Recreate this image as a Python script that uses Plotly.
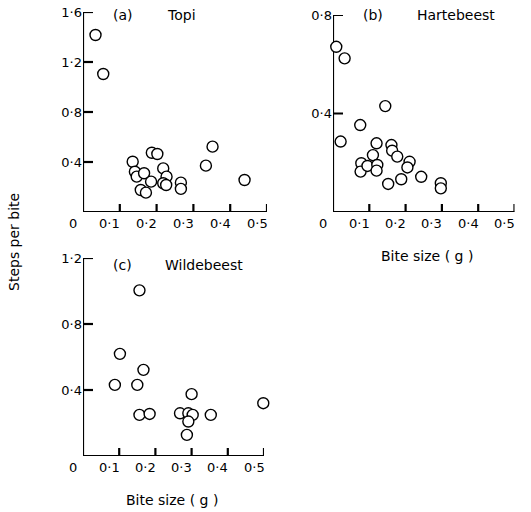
import plotly.graph_objects as go

W, H = 531, 512

# Panel (a) Topi
topi_x = [0.034, 0.055, 0.135, 0.141, 0.146, 0.166, 0.157, 0.171, 0.185, 0.187, 0.202,
          0.218, 0.227, 0.218, 0.226, 0.266, 0.266, 0.334, 0.352, 0.439]
topi_y = [1.416, 1.104, 0.402, 0.322, 0.283, 0.310, 0.176, 0.155, 0.243, 0.474, 0.464,
          0.349, 0.283, 0.230, 0.216, 0.235, 0.185, 0.371, 0.523, 0.256]

# Panel (b) Hartebeest
hart_x = [0.009, 0.032, 0.021, 0.144, 0.075, 0.120, 0.161, 0.163, 0.177, 0.110, 0.078,
          0.076, 0.095, 0.122, 0.120, 0.211, 0.205, 0.152, 0.188, 0.243, 0.297, 0.297]
hart_y = [0.671, 0.624, 0.286, 0.430, 0.353, 0.279, 0.272, 0.249, 0.225, 0.231, 0.198,
          0.164, 0.187, 0.191, 0.168, 0.204, 0.181, 0.114, 0.133, 0.143, 0.117, 0.096]

# Panel (c) Wildebeest
wild_x = [0.156, 0.102, 0.088, 0.167, 0.150, 0.156, 0.184, 0.268, 0.291, 0.300, 0.303,
          0.291, 0.287, 0.353, 0.498]
wild_y = [1.004, 0.619, 0.431, 0.522, 0.431, 0.249, 0.255, 0.259, 0.259, 0.375, 0.249,
          0.209, 0.128, 0.249, 0.320]

x_ticks = [0, 0.1, 0.2, 0.3, 0.4, 0.5]
x_labels = ["0", "0·1", "0·2", "0·3", "0·4", "0·5"]
ya_ticks = [0.4, 0.8, 1.2, 1.6]
ya_labels = ["0·4", "0·8", "1·2", "1·6"]
yb_ticks = [0.4, 0.8]
yb_labels = ["0·4", "0·8"]
yc_ticks = [0.4, 0.8, 1.2]
yc_labels = ["0·4", "0·8", "1·2"]

FONT = "DejaVu Sans"

def px(x):
    return x / W

def py(y):
    return 1 - y / H

# panel geometry in pixels: (left, right, bottom, top)
geo = {
    "a": (83, 267, 212, 12),
    "b": (333, 514.5, 212, 15),
    "c": (83, 264, 456, 258),
}
XMAX = 0.5
ymax = {"a": 1.6, "b": 0.8, "c": 1.2}
yticks = {"a": ya_ticks, "b": yb_ticks, "c": yc_ticks}
ylabels = {"a": ya_labels, "b": yb_labels, "c": yc_labels}
axes = {"a": ("x", "y"), "b": ("x2", "y2"), "c": ("x3", "y3")}

marker = dict(symbol="circle", size=11, color="white", line=dict(color="black", width=1.4))

fig = go.Figure()

# axis frames and inside ticks, drawn as line traces
XTICK_PX, YTICK_PX = 8, 10
for k, (xr, yr) in axes.items():
    l, r, b, t = geo[k]
    dx = XMAX / (r - l)          # data units per pixel (x)
    dy = ymax[k] / (b - t)       # data units per pixel (y)
    xs, ys = [XMAX, 0, 0], [0, 0, ymax[k]]
    for v in x_ticks[1:]:
        xs += [None, v, v]
        ys += [None, 0, XTICK_PX * dy]
    for v in yticks[k]:
        xs += [None, 0, YTICK_PX * dx]
        ys += [None, v, v]
    fig.add_trace(go.Scatter(x=xs, y=ys, mode="lines", xaxis=xr, yaxis=yr,
                             line=dict(color="black", width=2.2), cliponaxis=False,
                             showlegend=False, hoverinfo="skip"))

fig.add_trace(go.Scatter(x=topi_x, y=topi_y, mode="markers", marker=marker,
                         xaxis="x", yaxis="y", cliponaxis=False, showlegend=False))
fig.add_trace(go.Scatter(x=hart_x, y=hart_y, mode="markers", marker=marker,
                         xaxis="x2", yaxis="y2", cliponaxis=False, showlegend=False))
fig.add_trace(go.Scatter(x=wild_x, y=wild_y, mode="markers", marker=marker,
                         xaxis="x3", yaxis="y3", cliponaxis=False, showlegend=False))

common = dict(showline=False, ticks="", showgrid=False, zeroline=False,
              tickfont=dict(family=FONT, size=13, color="black"))

layout_axes = {}
for i, k in enumerate(("a", "b", "c")):
    l, r, b, t = geo[k]
    sfx = "" if i == 0 else str(i + 1)
    layout_axes["xaxis" + sfx] = dict(common, domain=[px(l), px(r)], anchor="y" + sfx,
                                      range=[0, XMAX], tickmode="array",
                                      tickvals=x_ticks, showticklabels=False)
    layout_axes["yaxis" + sfx] = dict(common, domain=[py(b), py(t)], anchor="x" + sfx,
                                      range=[0, ymax[k]], tickmode="array",
                                      tickvals=yticks[k], ticktext=ylabels[k])

fig.update_layout(
    template="none",
    width=W, height=H,
    margin=dict(l=0, r=0, t=0, b=0),
    paper_bgcolor="white", plot_bgcolor="rgba(0,0,0,0)",
    **layout_axes,
)

# x tick labels (offset left of their ticks, as in the original)
for k, (xr, yr) in axes.items():
    for v, t in zip(x_ticks, x_labels):
        fig.add_annotation(text=t, x=v, y=0, xref=xr, yref=yr, xshift=-10, yshift=-11,
                           xanchor="center", yanchor="middle", showarrow=False,
                           font=dict(family=FONT, size=13, color="black"))

def ann(text, x, y, xanchor="left", angle=0, size=14):
    fig.add_annotation(text=text, x=px(x), y=py(y), xref="paper", yref="paper",
                       xanchor=xanchor, yanchor="middle", showarrow=False,
                       textangle=angle, font=dict(family=FONT, size=size, color="black"))

ann("(a)", 111, 15)
ann("Topi", 165, 15)
ann("(b)", 361, 15)
ann("Hartebeest", 415, 15)
ann("(c)", 111, 265)
ann("Wildebeest", 163, 265)
ann("Bite size ( g )", 427, 256, xanchor="center")
ann("Bite size ( g )", 172, 500, xanchor="center")
ann("Steps per bite", 14, 242, xanchor="center", angle=-90)

fig.write_html("out.html")
